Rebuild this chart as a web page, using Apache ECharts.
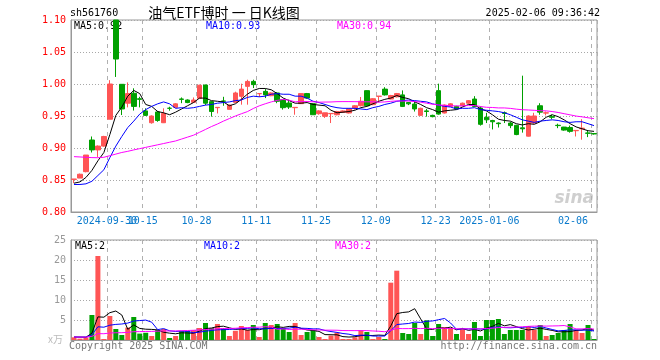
<!DOCTYPE html>
<html><head><meta charset="utf-8">
<script src="https://cdn.jsdelivr.net/npm/echarts@6/dist/echarts.min.js"></script>
<style>html,body{margin:0;padding:0;background:#fff}#c{width:660px;height:360px}</style>
</head><body><div id="c"></div>
<script>
const dates = [
'2024-09-20','2024-09-23','2024-09-24','2024-09-25','2024-09-26','2024-09-27','2024-09-30',
'2024-10-08','2024-10-09','2024-10-10','2024-10-11','2024-10-14','2024-10-15','2024-10-16','2024-10-17','2024-10-18','2024-10-21','2024-10-22','2024-10-23','2024-10-24','2024-10-25','2024-10-28','2024-10-29','2024-10-30','2024-10-31',
'2024-11-01','2024-11-04','2024-11-05','2024-11-06','2024-11-07','2024-11-08','2024-11-11','2024-11-12','2024-11-13','2024-11-14','2024-11-15','2024-11-18','2024-11-19','2024-11-20','2024-11-21','2024-11-22','2024-11-25','2024-11-26','2024-11-27','2024-11-28','2024-11-29',
'2024-12-02','2024-12-03','2024-12-04','2024-12-05','2024-12-06','2024-12-09','2024-12-10','2024-12-11','2024-12-12','2024-12-13','2024-12-16','2024-12-17','2024-12-18','2024-12-19','2024-12-20','2024-12-23','2024-12-24','2024-12-25','2024-12-26','2024-12-27','2024-12-30','2024-12-31',
'2025-01-02','2025-01-03','2025-01-06','2025-01-07','2025-01-08','2025-01-09','2025-01-10','2025-01-13','2025-01-14','2025-01-15','2025-01-16','2025-01-17','2025-01-20','2025-01-21','2025-01-22','2025-01-23','2025-01-24','2025-01-27',
'2025-02-05','2025-02-06'];

const opens = [0.851,0.853,0.863,0.9125,0.897,0.903,0.945,1.100,0.9995,0.970,0.9855,0.977,0.958,0.9395,0.9563,0.9395,0.9622,0.9635,0.9766,0.975,0.9713,0.9776,0.9984,0.9724,0.963,0.9735,0.9604,0.9713,0.9807,0.9963,1.0041,0.9849,0.9885,0.9817,0.986,0.9755,0.9703,0.963,0.9693,0.985,0.9693,0.9536,0.9495,0.9536,0.952,0.9557,0.9547,0.9625,0.9661,0.9896,0.9677,0.9807,0.992,0.9765,0.980,0.983,0.971,0.9687,0.951,0.958,0.951,0.9896,0.9547,0.965,0.965,0.966,0.970,0.9765,0.9625,0.948,0.943,0.939,0.955,0.939,0.9355,0.9315,0.9185,0.939,0.966,0.9545,0.949,0.9355,0.9327,0.932,0.927,0.930,0.9235,0.9225];
const closes = [0.8515,0.859,0.889,0.897,0.903,0.918,1.000,1.039,0.961,0.985,0.965,0.976,0.951,0.950,0.943,0.954,0.962,0.969,0.976,0.971,0.975,0.998,0.970,0.957,0.9635,0.973,0.967,0.986,0.992,1.004,0.999,0.985,0.983,0.986,0.973,0.963,0.964,0.9635,0.985,0.978,0.952,0.958,0.955,0.954,0.957,0.958,0.961,0.966,0.973,0.966,0.977,0.981,0.983,0.982,0.985,0.965,0.969,0.961,0.962,0.957,0.949,0.953,0.967,0.969,0.961,0.970,0.974,0.965,0.937,0.944,0.941,0.938,0.954,0.935,0.921,0.930,0.950,0.950,0.956,0.955,0.948,0.935,0.928,0.926,0.9275,0.931,0.923,0.922];
const lows = [0.845,0.853,0.862,0.893,0.886,0.902,0.945,1.011,0.9515,0.9635,0.9585,0.9635,0.950,0.938,0.941,0.939,0.9583,0.963,0.970,0.970,0.971,0.977,0.967,0.949,0.954,0.966,0.960,0.971,0.9677,0.9677,0.9937,0.9797,0.978,0.981,0.970,0.960,0.961,0.952,0.969,0.977,0.952,0.952,0.947,0.939,0.951,0.955,0.954,0.960,0.965,0.965,0.967,0.971,0.982,0.976,0.979,0.964,0.967,0.957,0.950,0.949,0.948,0.952,0.954,0.964,0.960,0.965,0.969,0.964,0.935,0.939,0.929,0.932,0.939,0.931,0.920,0.924,0.918,0.938,0.952,0.951,0.945,0.931,0.927,0.924,0.918,0.913,0.917,0.921];
const highs = [0.8515,0.860,0.889,0.918,0.904,0.919,1.006,1.100,1.000,1.0025,0.9933,0.980,0.962,0.951,0.958,0.962,0.9645,0.970,0.979,0.976,0.979,0.999,0.999,0.973,0.9635,0.980,0.968,0.988,1.0005,1.0067,1.0067,0.985,0.992,0.987,0.987,0.976,0.9755,0.9635,0.985,0.986,0.970,0.959,0.955,0.954,0.958,0.959,0.961,0.967,0.9797,0.990,0.978,0.981,0.995,0.983,0.986,0.990,0.972,0.973,0.963,0.961,0.952,1.0005,0.968,0.970,0.966,0.971,0.975,0.981,0.965,0.955,0.944,0.940,0.957,0.941,0.936,1.013,0.951,0.955,0.970,0.957,0.952,0.938,0.933,0.935,0.9275,0.945,0.927,0.923];

const ma5 = [0.845,0.847,0.854,0.865,0.880,0.893,0.921,0.951,0.964,0.981,0.990,0.985,0.968,0.965,0.957,0.955,0.952,0.956,0.961,0.966,0.971,0.978,0.978,0.974,0.973,0.972,0.966,0.969,0.976,0.984,0.990,0.993,0.993,0.991,0.985,0.978,0.974,0.970,0.970,0.971,0.968,0.967,0.966,0.959,0.955,0.956,0.957,0.959,0.963,0.965,0.969,0.973,0.976,0.978,0.982,0.979,0.977,0.972,0.968,0.963,0.960,0.956,0.958,0.959,0.960,0.964,0.968,0.968,0.961,0.958,0.952,0.945,0.943,0.942,0.938,0.936,0.938,0.937,0.941,0.948,0.952,0.949,0.944,0.938,0.933,0.930,0.927,0.926];
const ma10 = [0.843,0.843,0.844,0.848,0.857,0.866,0.885,0.903,0.918,0.932,0.942,0.953,0.960,0.965,0.969,0.972,0.969,0.962,0.963,0.962,0.963,0.965,0.967,0.968,0.970,0.971,0.972,0.974,0.975,0.979,0.981,0.980,0.981,0.984,0.985,0.984,0.984,0.981,0.981,0.978,0.973,0.971,0.968,0.965,0.963,0.962,0.962,0.962,0.961,0.960,0.963,0.965,0.968,0.970,0.973,0.974,0.975,0.974,0.973,0.972,0.969,0.967,0.965,0.964,0.961,0.962,0.962,0.963,0.960,0.959,0.958,0.957,0.955,0.952,0.948,0.944,0.942,0.940,0.942,0.943,0.944,0.943,0.941,0.940,0.941,0.941,0.938,0.935];
const ma30 = [0.8865,0.886,0.8855,0.885,0.8848,0.8855,0.888,0.8905,0.893,0.8948,0.897,0.899,0.901,0.903,0.905,0.907,0.909,0.911,0.914,0.917,0.920,0.9245,0.929,0.9335,0.9375,0.942,0.946,0.950,0.9535,0.9568,0.9617,0.9659,0.9691,0.972,0.9744,0.9759,0.9747,0.9721,0.9729,0.9727,0.9722,0.9716,0.9718,0.9719,0.9724,0.9725,0.9725,0.9724,0.9723,0.9721,0.9722,0.9716,0.972,0.9729,0.9736,0.9733,0.9734,0.9726,0.9716,0.970,0.9683,0.9672,0.9667,0.9661,0.9657,0.9659,0.9663,0.9664,0.9648,0.9636,0.9633,0.9626,0.9626,0.9619,0.9607,0.9598,0.9594,0.9589,0.9583,0.958,0.957,0.9555,0.9536,0.9518,0.9499,0.9487,0.9472,0.9459];

const volumes = [0.67,0.33,0.67,6.25,21,0.25,6.0,2.75,1.25,3.1,5.75,1.6,1.8,1.0,2.5,2.75,0.5,1.0,2.25,2.25,2.5,3.0,4.25,3.0,4.0,3.0,1.0,2.3,3.5,2.5,3.75,0.75,4.25,3.75,4.0,3.0,2.0,4.25,1.25,2.0,2.5,0.75,0.25,1.1,1.83,0.25,0.25,0.67,2.5,2.0,0.25,0.75,0.25,14.33,17.33,1.75,1.5,4.25,1.5,4.92,1.0,4.0,3.25,3.0,1.5,2.75,1.5,4.5,1.0,5.0,5.0,5.25,1.5,2.5,2.5,2.5,3.5,2.5,3.75,1.0,1.25,1.75,2.5,4.0,2.5,1.75,3.75,0.25];
const vma5 = [0.75,0.72,0.7,1.7,5.78,5.7,6.83,7.25,6.25,2.67,3.77,2.89,2.7,2.65,2.53,1.93,1.71,1.55,1.8,1.75,1.7,2.2,2.85,3.0,3.35,3.45,3.05,2.66,2.76,2.46,2.61,2.56,2.95,3.0,3.3,3.15,3.4,3.4,2.9,2.5,2.4,2.15,1.35,1.32,1.29,0.84,0.74,0.82,1.1,1.13,1.13,1.23,1.15,3.52,6.58,6.88,7.03,7.83,5.27,2.78,2.63,3.13,2.93,3.23,2.55,2.9,2.4,2.65,2.25,2.95,3.4,4.15,3.55,3.85,3.35,2.85,2.5,2.7,2.95,2.65,2.4,2.05,2.05,2.1,2.4,2.5,2.9,2.45];
const vma10 = [0.75,0.73,0.72,1.3,3.3,3.2,3.7,3.9,4.0,4.23,4.74,4.86,4.98,4.45,2.6,2.85,2.3,2.13,2.23,2.14,1.82,1.96,2.2,2.4,2.55,2.58,2.63,2.76,2.88,2.91,3.03,2.81,2.81,2.88,2.88,2.88,2.98,3.18,2.95,2.9,2.78,2.78,2.38,2.11,1.9,1.62,1.45,1.09,1.21,1.21,0.99,0.99,0.99,2.31,3.86,4.0,4.13,4.49,4.4,4.68,4.76,5.08,5.38,4.25,2.67,2.77,2.77,2.79,2.74,2.75,3.15,3.28,3.1,3.05,3.15,3.13,3.33,3.13,3.4,3.0,2.63,2.28,2.38,2.53,2.53,2.45,2.48,2.25];
const vma30 = [0.75,0.73,0.73,0.91,1.59,1.57,1.75,1.81,1.83,1.91,2.08,2.1,2.14,2.15,2.21,2.27,2.26,2.27,2.32,2.37,2.43,2.51,2.62,2.7,2.81,2.88,2.89,2.94,3.03,3.09,3.19,3.21,3.33,3.24,2.68,2.77,2.64,2.69,2.69,2.65,2.54,2.51,2.46,2.46,2.44,2.36,2.35,2.34,2.35,2.34,2.26,2.19,2.06,2.43,2.88,2.84,2.85,2.92,2.85,2.93,2.84,2.95,2.91,2.89,2.81,2.8,2.78,2.79,2.78,2.88,2.96,3.11,3.16,3.2,3.23,3.3,3.41,3.47,3.51,3.48,3.51,3.54,3.62,3.28,2.78,2.78,2.86,2.72];

const tickDates = ['2024-09-30','2024-10-15','2024-10-28','2024-11-11','2024-11-25','2024-12-09','2024-12-23','2025-01-06','2025-02-06'];
const tickTexts = ['2024-09-30','10-15','10-28','11-11','11-25','12-09','12-23','2025-01-06','02-06'];
const priceTicks = [0.80,0.85,0.90,0.95,1.00,1.05,1.10];
const volTicks = [0,5,10,15,20,25];

const UP = '#ff5555', DOWN = '#00a000';
const MONO = '"DejaVu Sans Mono", "Liberation Mono", monospace';
const tickMap = {};
tickDates.forEach((d,i)=>tickMap[d]=tickTexts[i]);
const showTick = (idx) => tickMap[dates[idx]] !== undefined;
// labels[0] is a blank placeholder at the first category (hidden via showMinLabel:false)
const showLabel = (idx) => idx === 0 || showTick(idx);

const kData = dates.map((d,i)=>[opens[i],closes[i],lows[i],highs[i]]);
const volData = volumes.map((v,i)=>({value:v, itemStyle:{color: closes[i] >= opens[i] ? UP : DOWN}}));

const chart = echarts.init(document.getElementById('c'), null, {renderer:'canvas'});
const gridLine = {show:true, interval: showTick, lineStyle:{color:'#b0b0b0', type:[4,4], width:1}};
const txt = (text, x, y, fill, align, font) => ({type:'text', silent:true, style:{text, x, y, fill, align: align||'left', verticalAlign:'middle', font: font || ('10px ' + MONO)}});

chart.setOption({
  animation:false,
  backgroundColor:'#fff',
  grid:[
    {left:71, top:20, width:526, height:192, show:true, borderColor:'#999', borderWidth:1},
    {left:71, top:240, width:526, height:100, show:true, borderColor:'#999', borderWidth:1}
  ],
  xAxis:[
    {type:'category', gridIndex:0, data:dates, boundaryGap:true,
     axisLine:{lineStyle:{color:'#999'}}, axisTick:{show:false},
     axisLabel:{interval: showLabel, hideOverlap:false, showMinLabel:false, showMaxLabel:true,
       formatter:(v)=>tickMap[v]||'', color:'#0a7acc', fontFamily:MONO, fontSize:10, margin:4, padding:[0,6,0,0], alignMaxLabel:'right'},
     splitLine:gridLine},
    {type:'category', gridIndex:1, data:dates, boundaryGap:true,
     axisLine:{lineStyle:{color:'#999'}}, axisTick:{show:false}, axisLabel:{show:false},
     splitLine:gridLine}
  ],
  yAxis:[
    {type:'value', gridIndex:0, min:priceTicks[0], max:priceTicks[priceTicks.length-1], interval:0.05,
     axisLine:{show:true, lineStyle:{color:'#999'}}, axisTick:{show:false},
     axisLabel:{formatter:(v)=>v.toFixed(2), color:'#ff0000', fontFamily:MONO, fontSize:10, margin:5},
     splitLine:{show:true, lineStyle:{color:'#a8a8a8', type:[1,2]}}},
    {type:'value', gridIndex:1, min:volTicks[0], max:volTicks[volTicks.length-1], interval:5,
     axisLine:{show:true, lineStyle:{color:'#999'}}, axisTick:{show:false},
     axisLabel:{formatter:(v)=> v===0 ? '' : String(v), color:'#999', fontFamily:MONO, fontSize:10, margin:5},
     splitLine:{show:true, lineStyle:{color:'#a8a8a8', type:[1,2]}}}
  ],
  series:[
    {type:'candlestick', xAxisIndex:0, yAxisIndex:0, data:kData, barWidth:5,
     itemStyle:{color:UP, color0:DOWN, borderColor:UP, borderColor0:DOWN, borderWidth:1}},
    {type:'line', xAxisIndex:0, yAxisIndex:0, data:ma5, symbol:'none', lineStyle:{color:'#000', width:1}},
    {type:'line', xAxisIndex:0, yAxisIndex:0, data:ma10, symbol:'none', lineStyle:{color:'#0000ff', width:1}},
    {type:'line', xAxisIndex:0, yAxisIndex:0, data:ma30, symbol:'none', lineStyle:{color:'#ff00ff', width:1}},
    {type:'bar', xAxisIndex:1, yAxisIndex:1, data:volData, barWidth:5},
    {type:'line', xAxisIndex:1, yAxisIndex:1, data:vma5, symbol:'none', lineStyle:{color:'#000', width:1}},
    {type:'line', xAxisIndex:1, yAxisIndex:1, data:vma10, symbol:'none', lineStyle:{color:'#0000ff', width:1}},
    {type:'line', xAxisIndex:1, yAxisIndex:1, data:vma30, symbol:'none', lineStyle:{color:'#ff00ff', width:1}}
  ],
  graphic:[
    txt('sh561760', 70, 13.5, '#000'),
    txt('油气ETF博时 一 日K线图', 224, 12.5, '#000', 'center', '14px "Noto Sans CJK SC"'),
    txt('2025-02-06 09:36:42', 600, 13, '#000', 'right'),
    txt('MA5:0.92', 74, 26.5, '#000'),
    txt('MA10:0.93', 206, 26.5, '#0000ff'),
    txt('MA30:0.94', 337, 26.5, '#ff00ff'),
    txt('MA5:2', 75, 246.5, '#000'),
    txt('MA10:2', 204, 246.5, '#0000ff'),
    txt('MA30:2', 335, 246.5, '#ff00ff'),
    txt('x万', 63, 339, '#bbb', 'right', '10px "Noto Sans CJK SC"'),
    txt('Copyright 2025 SINA.COM', 69, 346, '#777'),
    txt('http://finance.sina.com.cn', 597, 346, '#777', 'right'),
    txt('sina', 594, 199, '#cfcfcf', 'right', 'italic bold 17px "DejaVu Sans"')
  ]
});
</script></body></html>
